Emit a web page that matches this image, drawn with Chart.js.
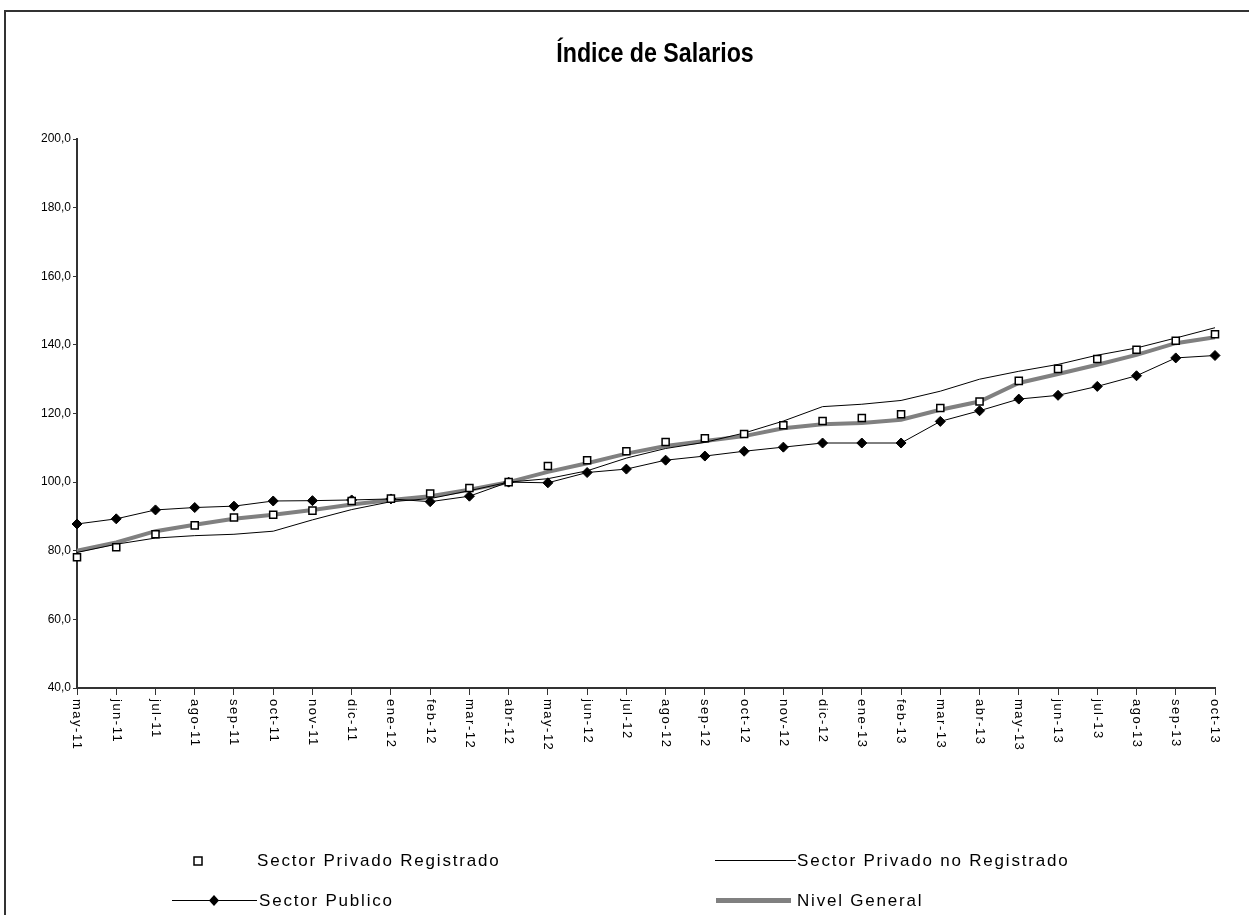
<!DOCTYPE html>
<html>
<head>
<meta charset="utf-8">
<script src="https://cdn.jsdelivr.net/npm/chart.js@4"></script>
<style>
  html, body { margin: 0; padding: 0; background: #fff; }
  #wrap { position: relative; width: 1249px; height: 915px; }
</style>
</head>
<body>
<div id="wrap"><canvas id="chart"></canvas></div>
<script>
const chartTitle = 'Índice de Salarios';

const months = ['may-11', 'jun-11', 'jul-11', 'ago-11', 'sep-11', 'oct-11', 'nov-11', 'dic-11',
    'ene-12', 'feb-12', 'mar-12', 'abr-12', 'may-12', 'jun-12', 'jul-12', 'ago-12', 'sep-12',
    'oct-12', 'nov-12', 'dic-12', 'ene-13', 'feb-13', 'mar-13', 'abr-13', 'may-13', 'jun-13',
    'jul-13', 'ago-13', 'sep-13', 'oct-13'];

const yTicks = [40, 60, 80, 100, 120, 140, 160, 180, 200];

const privadoRegistrado = [78.1, 81.0, 84.8, 87.4, 89.7, 90.5, 91.7, 94.5, 95.2, 96.7, 98.3, 100.0,
    104.7, 106.4, 109.0, 111.7, 112.8, 114.0, 116.6, 117.8, 118.7, 119.8, 121.6, 123.5, 129.5,
    133.0, 135.9, 138.6, 141.2, 143.1];

const privadoNoRegistrado = [79.5, 81.9, 83.7, 84.4, 84.8, 85.7, 89.0, 92.0, 94.3, 95.2, 97.5, 100.0,
    101.0, 103.3, 107.0, 109.8, 111.6, 114.3, 117.8, 122.0, 122.7, 123.8, 126.5, 130.0, 132.3,
    134.3, 137.0, 139.1, 142.0, 145.0];

const sectorPublico = [87.8, 89.3, 91.9, 92.6, 93.0, 94.5, 94.6, 94.8, 95.1, 94.3, 95.9, 100.0,
    99.8, 102.8, 103.8, 106.4, 107.6, 109.0, 110.2, 111.4, 111.4, 111.4, 117.7, 120.8, 124.2,
    125.3, 127.9, 131.0, 136.2, 136.9];

const nivelGeneral = [80.0, 82.4, 85.7, 87.6, 89.3, 90.5, 91.9, 93.5, 94.8, 95.9, 97.8, 100.0,
    103.0, 105.5, 108.3, 110.5, 112.0, 113.4, 115.7, 116.9, 117.2, 118.2, 121.1, 123.5, 128.9,
    131.5, 134.2, 137.1, 140.5, 142.2];

const seriesNames = ['Sector Privado Registrado', 'Sector Privado no Registrado', 'Sector Publico', 'Nivel General'];

const narrow = "'Liberation Sans Narrow', 'Liberation Sans', Arial, sans-serif";
const plain = "'Liberation Sans', Arial, sans-serif";

// frame, title, rotated month labels and the legend
const decorations = {
    id: 'decorations',
    beforeDraw(chart) {
        const ctx = chart.ctx;
        ctx.save();
        ctx.strokeStyle = '#333';
        ctx.lineWidth = 2;
        ctx.strokeRect(5, 11, 1300, 1000);
        ctx.restore();
    },
    afterDraw(chart) {
        const ctx = chart.ctx;
        const xScale = chart.scales.x;
        ctx.save();

        // title, squeezed horizontally like a narrow face
        ctx.save();
        ctx.fillStyle = '#000';
        ctx.font = `bold 27px ${plain}`;
        ctx.textAlign = 'center';
        ctx.textBaseline = 'middle';
        ctx.translate(655, 55);
        ctx.scale(0.86, 1);
        ctx.fillText(chartTitle, 0, 0);
        ctx.restore();

        // month labels, reading top to bottom
        ctx.fillStyle = '#000';
        ctx.font = `13px ${plain}`;
        ctx.letterSpacing = '1.5px';
        ctx.textAlign = 'left';
        ctx.textBaseline = 'middle';
        months.forEach((m, i) => {
            const x = xScale.getPixelForValue(i);
            ctx.save();
            ctx.translate(x, 699);
            ctx.rotate(Math.PI / 2);
            ctx.fillText(m, 0, 0);
            ctx.restore();
        });

        // legend
        ctx.font = `17px ${plain}`;
        ctx.letterSpacing = '1.8px';
        ctx.textBaseline = 'middle';

        // row 1, left: square marker only
        ctx.fillStyle = '#fff';
        ctx.strokeStyle = '#000';
        ctx.lineWidth = 1.5;
        ctx.fillRect(194, 857, 8, 8);
        ctx.strokeRect(194, 857, 8, 8);
        ctx.fillStyle = '#000';
        ctx.fillText(seriesNames[0], 257, 861);

        // row 1, right: thin line
        ctx.strokeStyle = '#000';
        ctx.lineWidth = 1;
        ctx.beginPath();
        ctx.moveTo(715, 860.5);
        ctx.lineTo(796, 860.5);
        ctx.stroke();
        ctx.fillText(seriesNames[1], 797, 861);

        // row 2, left: line with diamond
        ctx.beginPath();
        ctx.moveTo(172, 900.5);
        ctx.lineTo(257, 900.5);
        ctx.stroke();
        ctx.beginPath();
        ctx.moveTo(214, 895);
        ctx.lineTo(219, 900.5);
        ctx.lineTo(214, 906);
        ctx.lineTo(209, 900.5);
        ctx.closePath();
        ctx.fill();
        ctx.fillText(seriesNames[2], 259, 901);

        // row 2, right: thick gray line
        ctx.strokeStyle = '#808080';
        ctx.lineWidth = 5;
        ctx.beginPath();
        ctx.moveTo(716, 900.5);
        ctx.lineTo(791, 900.5);
        ctx.stroke();
        ctx.fillText(seriesNames[3], 797, 901);

        ctx.restore();
    }
};

const ctx = document.getElementById('chart').getContext('2d');
new Chart(ctx, {
    type: 'line',
    data: {
        labels: months,
        datasets: [
            {
                label: seriesNames[0],
                data: privadoRegistrado,
                showLine: false,
                pointStyle: 'rect',
                pointRadius: 5,
                pointBackgroundColor: '#fff',
                pointBorderColor: '#000',
                pointBorderWidth: 1.5,
                clip: false
            },
            {
                label: seriesNames[2],
                data: sectorPublico,
                borderColor: '#000',
                borderWidth: 1,
                pointStyle: 'rectRot',
                pointRadius: 5,
                pointBackgroundColor: '#000',
                pointBorderColor: '#000',
                tension: 0,
                clip: false
            },
            {
                label: seriesNames[1],
                data: privadoNoRegistrado,
                borderColor: '#000',
                borderWidth: 1,
                pointRadius: 0,
                tension: 0,
                clip: false
            },
            {
                label: seriesNames[3],
                data: nivelGeneral,
                borderColor: '#808080',
                borderWidth: 4,
                pointRadius: 0,
                tension: 0,
                clip: false
            }
        ]
    },
    options: {
        responsive: true,
        maintainAspectRatio: false,
        animation: false,
        layout: { padding: { top: 139, right: 34, left: 0, bottom: 0 } },
        plugins: {
            legend: { display: false },
            tooltip: { enabled: false }
        },
        scales: {
            x: {
                offset: false,
                grid: { drawOnChartArea: false, tickLength: 7, color: '#333', lineWidth: 1 },
                border: { display: true, color: '#333', width: 2 },
                ticks: { display: false },
                afterFit: (scale) => { scale.height = 915 - 688; }
            },
            y: {
                min: yTicks[0],
                max: yTicks[yTicks.length - 1],
                afterBuildTicks: (scale) => { scale.ticks = yTicks.map(v => ({ value: v })); },
                grid: { drawOnChartArea: false, tickLength: 4, color: '#333', lineWidth: 1 },
                border: { display: true, color: '#333', width: 2 },
                ticks: {
                    color: '#000',
                    padding: 2,
                    font: { family: narrow, size: 12 },
                    callback: (v) => v.toFixed(1).replace('.', ',')
                },
                afterFit: (scale) => { scale.width = 77; }
            }
        }
    },
    plugins: [decorations]
});
</script>
</body>
</html>
